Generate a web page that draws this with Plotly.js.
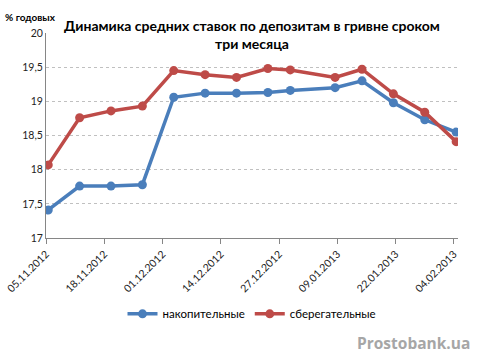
<!DOCTYPE html>
<html>
<head>
<meta charset="utf-8">
<script src="https://cdn.plot.ly/plotly-3.0.1.min.js"></script>
<style>html,body{margin:0;padding:0;background:#fff}#chart{width:480px;height:364px}</style>
</head>
<body>
<div id="chart"></div>
<script>
const dates = ['2012-11-05','2012-11-12','2012-11-19','2012-11-26','2012-12-03','2012-12-10','2012-12-17','2012-12-24','2012-12-29','2013-01-08','2013-01-14','2013-01-21','2013-01-28','2013-02-04'];
const nakopitelnye = [17.41,17.76,17.76,17.78,19.06,19.12,19.12,19.13,19.16,19.20,19.30,18.98,18.73,18.55];
const sberegatelnye = [18.07,18.76,18.86,18.93,19.45,19.39,19.35,19.48,19.46,19.35,19.47,19.11,18.84,18.41];
const seriesNames = ['накопительные','сберегательные'];
const titleText = 'Динамика средних ставок по депозитам в гривне сроком<br>три месяца';
const yLabel = '% годовых';
const watermark = 'Prostobank.ua';

// Excel date axis places each point in the middle of its day
const xs = dates.map(d => d + ' 12:00');

const traces = [
  {x: xs, y: nakopitelnye, name: seriesNames[0], type: 'scatter', mode: 'lines+markers',
   line: {color: '#4A7EBB', width: 3.5}, marker: {color: '#4A7EBB', size: 9}},
  {x: xs, y: sberegatelnye, name: seriesNames[1], type: 'scatter', mode: 'lines+markers',
   line: {color: '#BE4B48', width: 3.5}, marker: {color: '#BE4B48', size: 9}}
];

const layout = {
  width: 480, height: 364,
  margin: {l: 46, r: 22, t: 33, b: 126},
  paper_bgcolor: '#fff', plot_bgcolor: '#fff',
  showlegend: true,
  font: {family: 'Lato, "Open Sans", sans-serif', color: '#000', size: 11},
  title: {text: titleText, xref: 'paper', x: 0.5, xanchor: 'center',
          yref: 'container', y: 1 - 31 / 364, yanchor: 'middle',
          font: {family: 'Lato, "Open Sans", sans-serif', size: 14, color: '#000', weight: 'bold'}},
  xaxis: {
    type: 'date',
    range: ['2012-11-05 00:00', '2013-02-04 22:00'],
    tick0: '2012-11-05', dtick: 13 * 86400000,
    tickformat: '%d.%m.%Y', tickangle: -45,
    ticks: 'outside', ticklen: 5, tickcolor: '#868686',
    showline: true, linecolor: '#868686', linewidth: 1,
    showgrid: false, zeroline: false,
    tickfont: {size: 10.5, color: '#222'}
  },
  yaxis: {
    range: [17, 20], dtick: 0.5,
    tickformat: ',.1~f',
    showline: true, linecolor: '#868686', linewidth: 1,
    ticks: '', showgrid: true, gridcolor: '#c0c0c0', griddash: 'dot', gridwidth: 1,
    zeroline: false,
    tickfont: {size: 10.5, color: '#222'}
  },
  separators: ', ',
  legend: {orientation: 'h', x: 0.5, xanchor: 'center', y: -0.37, yanchor: 'middle',
           font: {size: 11.5, color: '#000'}, itemwidth: 30},
  annotations: [
    {text: '<b>' + yLabel + '</b>', xref: 'paper', yref: 'paper', x: -0.105, xanchor: 'left',
     y: 1.078, yanchor: 'middle', showarrow: false, font: {size: 10, color: '#000'}},
    {text: '<b>' + watermark + '</b>', xref: 'paper', yref: 'paper', x: 1.035, xanchor: 'right',
     y: -0.51, yanchor: 'middle', showarrow: false,
     font: {family: '"Open Sans", sans-serif', size: 15.5, color: '#A6A6A6'}}
  ]
};

Plotly.newPlot('chart', traces, layout, {displayModeBar: false, staticPlot: true});
</script>
</body>
</html>
